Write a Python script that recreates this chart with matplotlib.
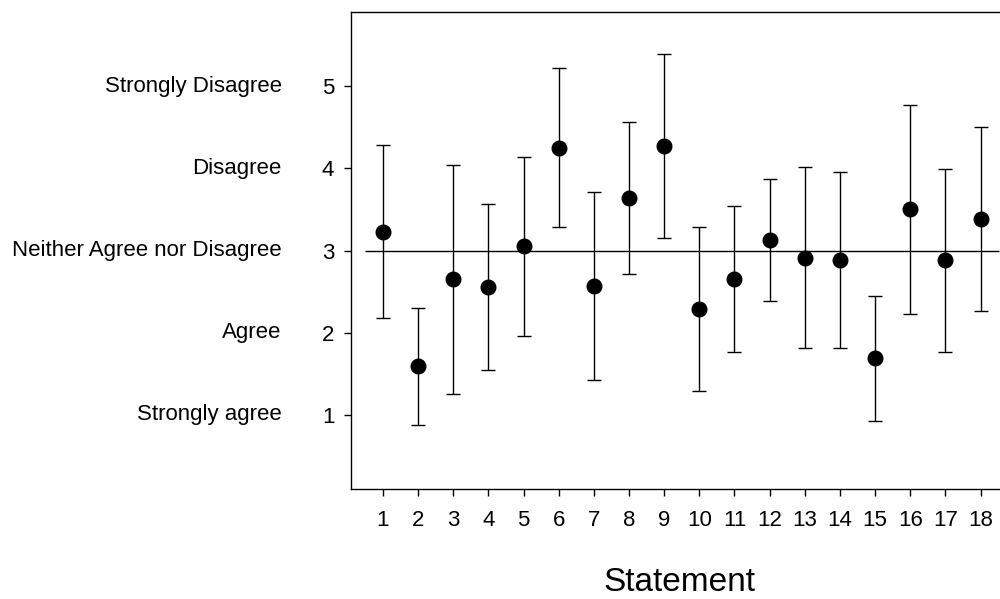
import numpy as np
import matplotlib
matplotlib.use("Agg")
import matplotlib.pyplot as plt

plt.rcParams['font.family'] = ['Liberation Sans', 'DejaVu Sans']

# statement number, mean response and standard deviation
statements = list(range(1, 19))
means = [3.23, 1.59, 2.65, 2.56, 3.05, 4.25, 2.57, 3.64, 4.27,
         2.29, 2.65, 3.13, 2.91, 2.88, 1.69, 3.50, 2.88, 3.38]
sds = [1.05, 0.71, 1.39, 1.01, 1.09, 0.97, 1.14, 0.92, 1.12,
       1.00, 0.89, 0.74, 1.10, 1.07, 0.76, 1.27, 1.11, 1.12]

scale_values = [1, 2, 3, 4, 5]
scale_labels = ["Strongly agree", "Agree", "Neither Agree nor Disagree",
                "Disagree", "Strongly Disagree"]

fig = plt.figure(figsize=(10, 5.99), dpi=100)
ax = fig.add_axes([0.351, 0.1836, 0.652, 0.7964])

# neutral reference line
ax.hlines(3, 0.5, 18.53, color='black', linewidth=1.0, zorder=1)

ax.errorbar(statements, means, yerr=sds, fmt='o', color='black',
            markersize=10.5, elinewidth=1.0, capsize=5.2, capthick=1.0,
            ecolor='black', zorder=3)

ax.set_xlim(0.09, 18.64)
ax.set_ylim(0.1, 5.9)
ax.set_xticks(statements)
ax.set_yticks(scale_values)
ax.tick_params(axis='both', direction='out', labelsize=16, width=1.0)
ax.tick_params(axis='x', length=5, pad=10)
ax.tick_params(axis='y', length=5, pad=7)

for val, lab in zip(scale_values, scale_labels):
    ax.annotate(lab, xy=(0, val), xycoords=('axes fraction', 'data'),
                xytext=(-50, 0), textcoords='offset points',
                ha='right', va='center', fontsize=16)

ax.set_xlabel("Statement", fontsize=24)
ax.xaxis.label.set_verticalalignment('baseline')
ax.xaxis.set_label_coords(0.503, -0.214)

for side in ['left', 'bottom', 'top']:
    ax.spines[side].set_linewidth(1.0)
ax.spines['right'].set_visible(False)

fig.savefig("out.png", dpi=100)
